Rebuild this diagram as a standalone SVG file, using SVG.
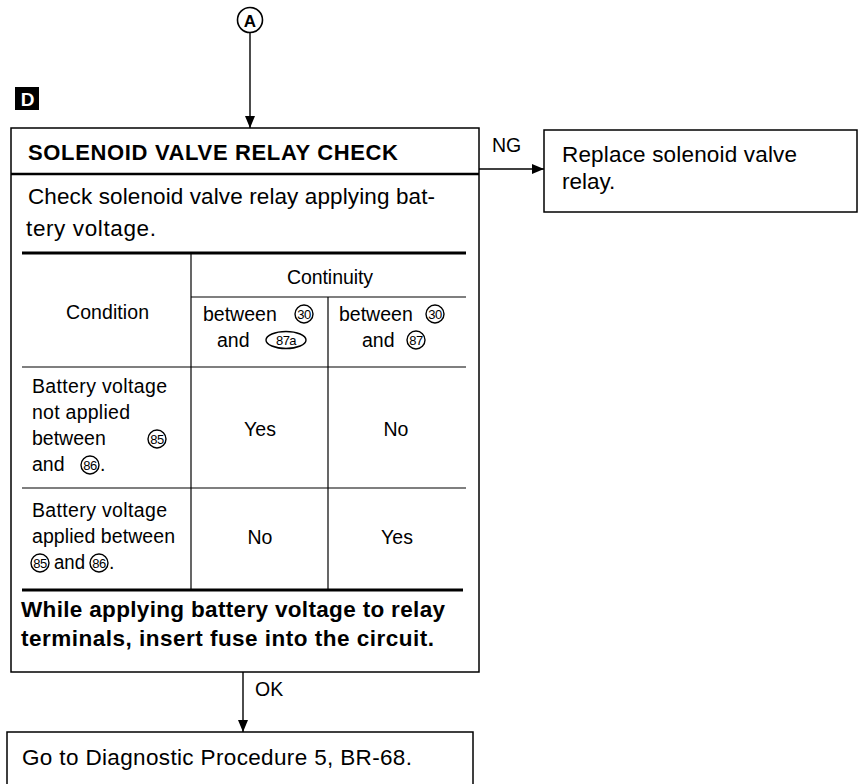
<svg xmlns="http://www.w3.org/2000/svg" width="859" height="784" viewBox="0 0 859 784">
<style>
  text { font-family: "Liberation Sans", Arial, sans-serif; fill: #000; }
  .body { font-size: 22.5px; }
  .hdr { font-size: 22px; font-weight: bold; }
  .bold { font-size: 22.5px; font-weight: bold; }
  .tbl { font-size: 19.5px; }
  .num { font-size: 13px; text-anchor: middle; letter-spacing: -0.6px; }
  .mid { text-anchor: middle; }
  .box { fill: #fff; stroke: #000; stroke-width: 1.5; }
  .thin { stroke: #000; stroke-width: 1.2; fill: none; }
  .thick { stroke: #000; stroke-width: 3; fill: none; }
  .conn { stroke: #000; stroke-width: 1.4; fill: none; }
  .ring { fill: none; stroke: #000; stroke-width: 1.4; }
</style>
<defs>
  <marker id="arr" viewBox="0 0 12 10" refX="12" refY="5" markerWidth="12" markerHeight="10" markerUnits="userSpaceOnUse" orient="auto">
    <path d="M0,0 L12,5 L0,10 Z" fill="#000"/>
  </marker>
</defs>

<g id="connectors">
  <line class="conn" x1="250" y1="33" x2="250" y2="128" marker-end="url(#arr)"/>
  <line class="conn" x1="479" y1="169" x2="544" y2="169" marker-end="url(#arr)"/>
  <text x="492" y="152" style="font-size:19.5px">NG</text>
  <line class="conn" x1="243" y1="672" x2="243" y2="732" marker-end="url(#arr)"/>
  <text x="255" y="696" style="font-size:19.5px">OK</text>
</g>

<g id="connector-A">
  <circle cx="250" cy="20" r="12.5" fill="#fff" stroke="#000" stroke-width="1.6"/>
  <text x="250" y="26.5" class="mid" style="font-size:17px;font-weight:bold">A</text>
</g>

<g id="label-D">
  <rect x="15" y="87" width="24" height="23" fill="#000"/>
  <text x="27.5" y="106" class="mid" style="font-size:19px;font-weight:bold;fill:#fff">D</text>
</g>

<g id="relay-check">
  <rect class="box" x="11" y="128" width="468" height="544"/>
  <line x1="11" y1="174" x2="479" y2="174" stroke="#000" stroke-width="2.5"/>
  <text class="hdr" x="28" y="160" textLength="370" lengthAdjust="spacing">SOLENOID VALVE RELAY CHECK</text>
  <text class="body" x="28" y="204" textLength="407" lengthAdjust="spacing">Check solenoid valve relay applying bat-</text>
  <text class="body" x="26" y="236" textLength="130" lengthAdjust="spacing">tery voltage.</text>

  <!-- table -->
  <line class="thick" x1="22" y1="253" x2="466" y2="253"/>
  <line class="thin" x1="191" y1="253" x2="191" y2="590"/>
  <line class="thin" x1="191" y1="297" x2="466" y2="297"/>
  <line class="thin" x1="328" y1="297" x2="328" y2="590"/>
  <line class="thin" x1="22" y1="367" x2="466" y2="367"/>
  <line class="thin" x1="22" y1="488" x2="466" y2="488"/>
  <line class="thick" x1="22" y1="590" x2="463" y2="590"/>

  <text class="tbl" x="287" y="284" textLength="86" lengthAdjust="spacing">Continuity</text>
  <text class="tbl" x="66" y="319" textLength="83" lengthAdjust="spacing">Condition</text>

  <text class="tbl" x="203" y="321">between</text>
  <circle class="ring" cx="304" cy="314" r="9"/>
  <text class="num" x="304" y="318.5">30</text>
  <text class="tbl" x="217" y="347">and</text>
  <ellipse class="ring" cx="286" cy="340" rx="20" ry="8.5"/>
  <text class="num" x="286" y="344.5">87a</text>

  <text class="tbl" x="339" y="321">between</text>
  <circle class="ring" cx="435" cy="314" r="9"/>
  <text class="num" x="435" y="318.5">30</text>
  <text class="tbl" x="362" y="347">and</text>
  <circle class="ring" cx="416" cy="340" r="9"/>
  <text class="num" x="416" y="344.5">87</text>

  <!-- row 1 -->
  <text class="tbl" x="32" y="393" textLength="135" lengthAdjust="spacing">Battery voltage</text>
  <text class="tbl" x="32" y="419" textLength="98" lengthAdjust="spacing">not applied</text>
  <text class="tbl" x="32" y="445">between</text>
  <circle class="ring" cx="157" cy="439" r="9"/>
  <text class="num" x="157" y="443.5">85</text>
  <text class="tbl" x="32" y="471">and</text>
  <circle class="ring" cx="90" cy="465" r="9"/>
  <text class="num" x="90" y="469.5">86</text>
  <text class="tbl" x="100" y="471">.</text>
  <text class="tbl mid" x="260" y="436">Yes</text>
  <text class="tbl mid" x="396" y="436">No</text>

  <!-- row 2 -->
  <text class="tbl" x="32" y="517" textLength="135" lengthAdjust="spacing">Battery voltage</text>
  <text class="tbl" x="32" y="543" textLength="143" lengthAdjust="spacing">applied between</text>
  <circle class="ring" cx="40" cy="563" r="9"/>
  <text class="num" x="40" y="567.5">85</text>
  <text class="tbl" x="54" y="569" textLength="31" lengthAdjust="spacingAndGlyphs">and</text>
  <circle class="ring" cx="99" cy="563" r="9"/>
  <text class="num" x="99" y="567.5">86</text>
  <text class="tbl" x="109" y="569">.</text>
  <text class="tbl mid" x="260" y="544">No</text>
  <text class="tbl mid" x="397" y="544">Yes</text>

  <text class="bold" x="21" y="617" textLength="424" lengthAdjust="spacing">While applying battery voltage to relay</text>
  <text class="bold" x="21" y="646" textLength="413" lengthAdjust="spacing">terminals, insert fuse into the circuit.</text>
</g>

<g id="replace-relay">
  <rect class="box" x="544" y="130" width="313" height="82"/>
  <text class="body" x="562" y="162" textLength="235" lengthAdjust="spacing">Replace solenoid valve</text>
  <text class="body" x="562" y="189">relay.</text>
</g>

<g id="diag-procedure">
  <rect class="box" x="7" y="732" width="466" height="60"/>
  <text class="body" x="22" y="765" textLength="390" lengthAdjust="spacing">Go to Diagnostic Procedure 5, BR-68.</text>
</g>
</svg>
